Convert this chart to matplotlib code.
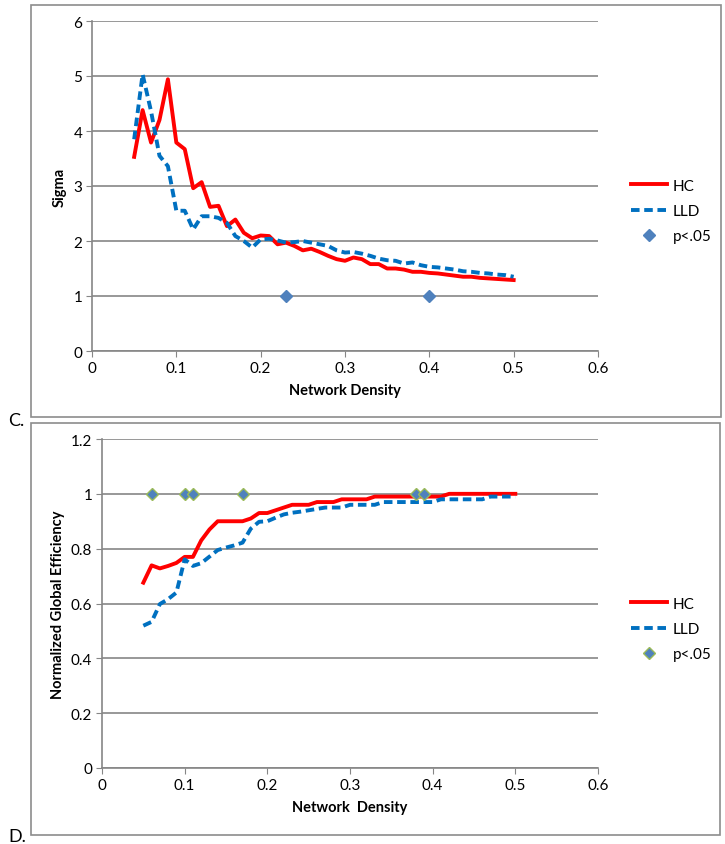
import numpy as np
import matplotlib
matplotlib.use("Agg")
import matplotlib.pyplot as plt
from matplotlib.patches import Rectangle

plt.rcParams['font.family'] = ['Lato', 'DejaVu Sans']

# network density thresholds
density = [0.05, 0.06, 0.07, 0.08, 0.09, 0.10, 0.11, 0.12, 0.13, 0.14,
           0.15, 0.16, 0.17, 0.18, 0.19, 0.20, 0.21, 0.22, 0.23, 0.24,
           0.25, 0.26, 0.27, 0.28, 0.29, 0.30, 0.31, 0.32, 0.33, 0.34,
           0.35, 0.36, 0.37, 0.38, 0.39, 0.40, 0.41, 0.42, 0.43, 0.44,
           0.45, 0.46, 0.47, 0.48, 0.49, 0.50]

# C. small-worldness (sigma)
sigma_hc = [3.53, 4.38, 3.79, 4.20, 4.94, 3.79, 3.67, 2.96, 3.07, 2.62,
            2.64, 2.27, 2.39, 2.15, 2.05, 2.10, 2.09, 1.94, 1.97, 1.91,
            1.83, 1.86, 1.80, 1.73, 1.67, 1.64, 1.70, 1.67, 1.58, 1.58,
            1.50, 1.50, 1.48, 1.44, 1.44, 1.42, 1.41, 1.39, 1.37, 1.35,
            1.35, 1.33, 1.32, 1.31, 1.30, 1.29]
sigma_lld = [3.85, 5.03, 4.36, 3.55, 3.36, 2.55, 2.55, 2.21, 2.45, 2.45,
             2.42, 2.33, 2.09, 2.00, 1.88, 2.03, 2.04, 2.01, 1.97, 1.98,
             2.00, 1.97, 1.94, 1.91, 1.83, 1.79, 1.80, 1.77, 1.73, 1.68,
             1.65, 1.64, 1.59, 1.61, 1.56, 1.53, 1.52, 1.50, 1.48, 1.45,
             1.44, 1.42, 1.41, 1.39, 1.38, 1.35]
sigma_sig_x = [0.23, 0.40]
sigma_sig_y = [1, 1]

# D. normalized global efficiency
eff_hc = [0.676, 0.739, 0.728, 0.737, 0.748, 0.770, 0.770, 0.830, 0.870, 0.900,
          0.900, 0.900, 0.900, 0.910, 0.930, 0.930, 0.940, 0.950, 0.960, 0.960,
          0.960, 0.970, 0.970, 0.970, 0.980, 0.980, 0.980, 0.980, 0.990, 0.990,
          0.990, 0.990, 0.990, 0.990, 0.990, 0.990, 0.990, 1.000, 1.000, 1.000,
          1.000, 1.000, 1.000, 1.000, 1.000, 1.000]
eff_lld = [0.519, 0.533, 0.598, 0.616, 0.640, 0.761, 0.737, 0.747, 0.771, 0.795,
           0.804, 0.812, 0.822, 0.873, 0.898, 0.900, 0.913, 0.925, 0.931, 0.935,
           0.940, 0.945, 0.950, 0.950, 0.950, 0.960, 0.960, 0.960, 0.960, 0.970,
           0.970, 0.970, 0.970, 0.970, 0.970, 0.970, 0.980, 0.980, 0.980, 0.980,
           0.980, 0.980, 0.990, 0.990, 0.990, 0.990]
eff_sig_x = [0.06, 0.10, 0.11, 0.17, 0.38, 0.39]
eff_sig_y = [1, 1, 1, 1, 1, 1]

W, H = 725, 845
RED = '#FF0000'
BLUE = '#0070C0'
GRID = '#868686'

fig = plt.figure(figsize=(W / 100, H / 100), dpi=100)


def px(x0, y0, x1, y1):
    # pixel box (top-left origin) -> figure fraction rect
    return [x0 / W, 1 - y1 / H, (x1 - x0) / W, (y1 - y0) / H]


# panel frames
for (x0, y0, x1, y1) in [(31, 6, 721, 418), (31, 424, 720, 836)]:
    fig.patches.append(Rectangle((x0 / W, 1 - y1 / H), (x1 - x0) / W, (y1 - y0) / H,
                                 transform=fig.transFigure, fill=False,
                                 edgecolor='#8C8C8C', lw=1.2))


def style(ax, ymax, ystep):
    ax.set_xlim(0, 0.6)
    ax.set_ylim(0, ymax)
    ax.set_xticks(np.arange(0, 0.61, 0.1))
    ax.set_xticklabels(['0', '0.1', '0.2', '0.3', '0.4', '0.5', '0.6'])
    yt = np.arange(0, ymax + 1e-9, ystep)
    ax.set_yticks(yt)
    ax.grid(axis='y', color=GRID, lw=1.2)
    ax.set_axisbelow(True)
    for s in ['top', 'right']:
        ax.spines[s].set_visible(False)
    for s in ['left', 'bottom']:
        ax.spines[s].set_color(GRID)
        ax.spines[s].set_linewidth(1.2)
    ax.tick_params(direction='out', length=4, color=GRID, labelsize=11, pad=3)


def legend(ax, ymid):
    ax.legend(loc='center left', bbox_to_anchor=(617 / W, 1 - ymid / H),
              bbox_transform=fig.transFigure, frameon=False, fontsize=11,
              handlelength=2.4, handletextpad=0.35, labelspacing=0.75)


# --- C. sigma ---
ax1 = fig.add_axes(px(92, 22, 598, 352))
ax1.plot(density, sigma_hc, color=RED, lw=2.8, label='HC', zorder=3)
ax1.plot(density, sigma_lld, color=BLUE, lw=2.8, ls=(0, (2.2, 1.2)), label='LLD', zorder=3)
ax1.plot(sigma_sig_x, sigma_sig_y, ls='none', marker='D', ms=6, color='#4F81BD',
         mec='#4F81BD', label='p<.05', zorder=4)
style(ax1, 6, 1)
ax1.set_yticklabels(['0', '1', '2', '3', '4', '5', '6'])
ax1.set_xlabel('Network Density', fontsize=10.5, fontweight='bold', labelpad=6)
ax1.set_ylabel('Sigma', fontsize=10.5, fontweight='bold', labelpad=5)
legend(ax1, 212)

# --- D. efficiency ---
ax2 = fig.add_axes(px(102, 440, 598, 769))
ax2.plot(density, eff_hc, color=RED, lw=2.8, label='HC', zorder=3)
ax2.plot(density, eff_lld, color=BLUE, lw=2.8, ls=(0, (2.2, 1.2)), label='LLD', zorder=3)
ax2.plot(eff_sig_x, eff_sig_y, ls='none', marker='D', ms=6, color='#4F81BD',
         mec='#9BBB59', mew=1.0, label='p<.05', zorder=4)
style(ax2, 1.2, 0.2)
ax2.set_yticklabels(['0', '0.2', '0.4', '0.6', '0.8', '1', '1.2'])
ax2.set_xlabel('Network  Density', fontsize=10.5, fontweight='bold', labelpad=6)
ax2.set_ylabel('Normalized Global Efficiency', fontsize=10.5, fontweight='bold', labelpad=4)
legend(ax2, 630)

fig.text(8 / W, 1 - 426 / H, 'C.', fontsize=13)
fig.text(8 / W, 1 - 842 / H, 'D.', fontsize=13)

fig.savefig('out.png', dpi=100)
